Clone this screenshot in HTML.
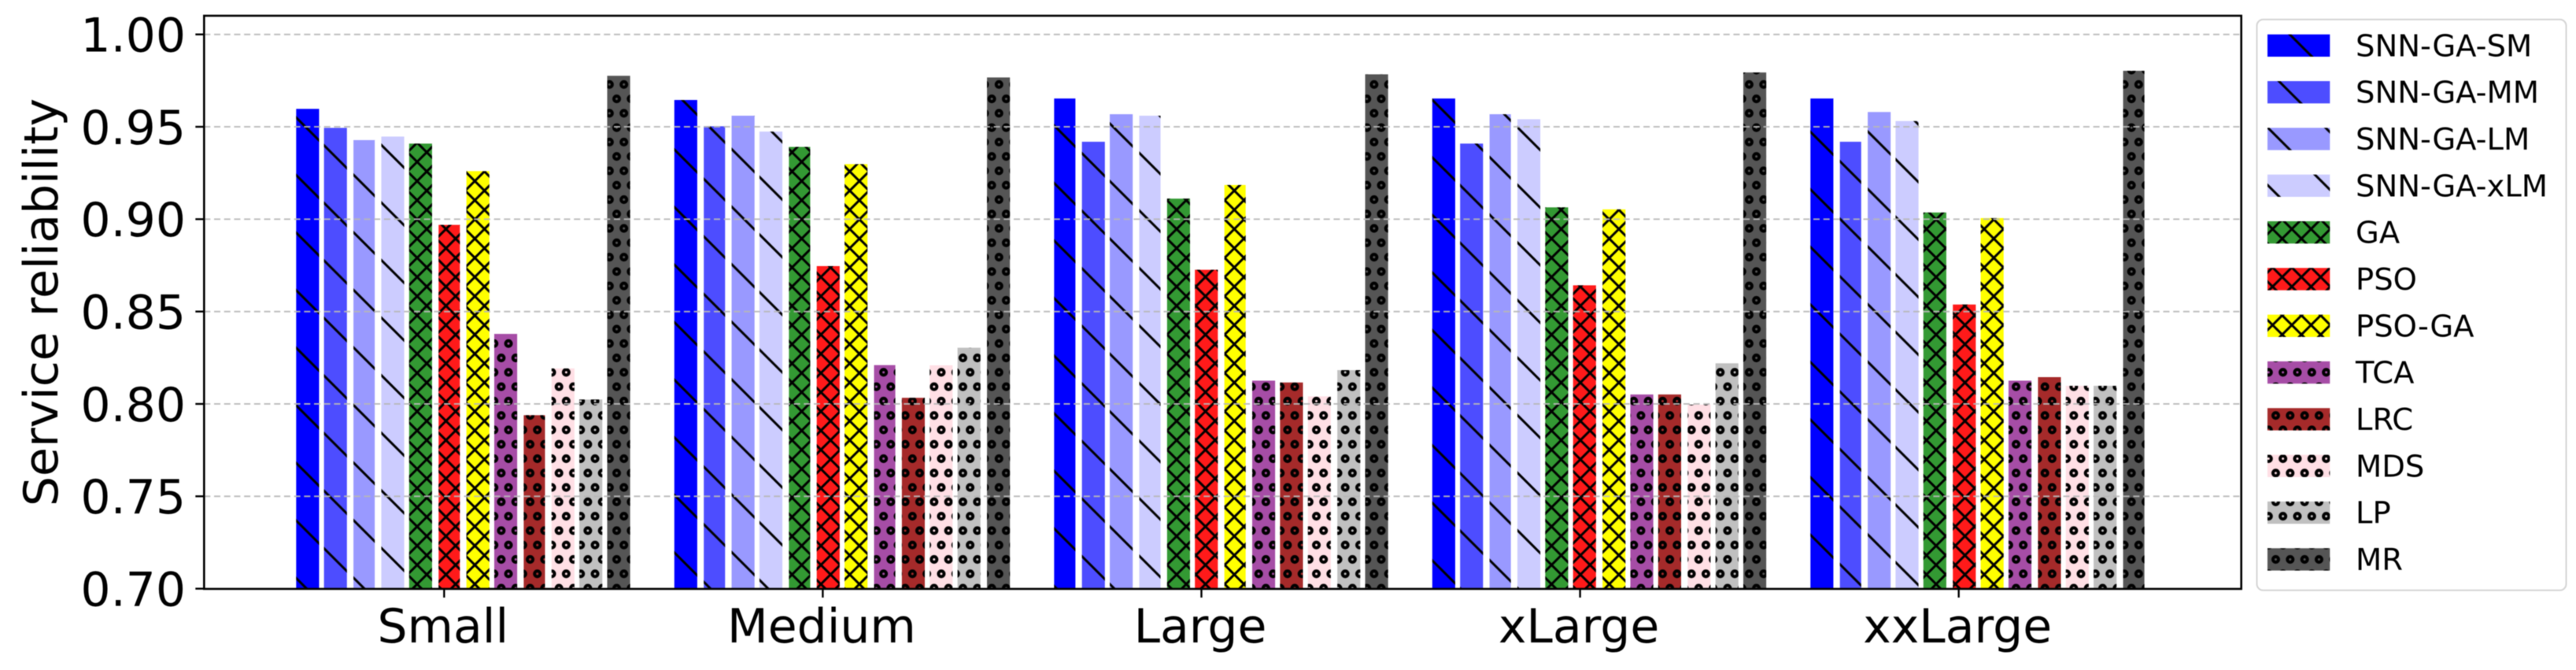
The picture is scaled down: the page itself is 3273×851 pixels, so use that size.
<!DOCTYPE html>
<html>
<head>
<meta charset="utf-8">
<title>Service reliability chart</title>
<style>
html,body{margin:0;padding:0;background:#fff;width:3273px;height:851px;overflow:hidden}
svg{display:block;filter:blur(0.6px)}
text{font-family:"DejaVu Sans",sans-serif;fill:#000}
</style>
</head>
<body>
<svg id="chart" xmlns="http://www.w3.org/2000/svg" width="3273" height="851" viewBox="0 0 3273 851">
  <defs>
    <pattern id="hatch-back" patternUnits="userSpaceOnUse" width="73.3" height="73.13" patternTransform="translate(376.3 149.3)">
      <path d="M-7.33 -7.313L80.63 80.443M-7.33 65.817L7.33 80.443M65.97 -7.313L80.63 7.313" stroke="#000" stroke-width="3" fill="none"/>
    </pattern>
    <pattern id="hatch-cross" patternUnits="userSpaceOnUse" width="24.43" height="24.38" patternTransform="translate(530 425)">
      <path d="M-2.443 -2.438L26.873 26.818M-2.443 26.818L26.873 -2.438" stroke="#000" stroke-width="3" fill="none"/>
    </pattern>
    <pattern id="hatch-circle" patternUnits="userSpaceOnUse" width="18.33" height="36.56" patternTransform="translate(792.7 107.3)">
      <g fill="none" stroke="#000" stroke-width="4">
        <circle cx="0" cy="0" r="3.5"/><circle cx="18.33" cy="0" r="3.5"/>
        <circle cx="0" cy="36.56" r="3.5"/><circle cx="18.33" cy="36.56" r="3.5"/>
        <circle cx="9.165" cy="18.28" r="3.5"/>
      </g>
    </pattern>
  </defs>
  <g id="bars"></g>
  <g id="grid"></g>
  <g id="axes"></g>
  <text transform="translate(73 384) rotate(-90)" text-anchor="middle" font-size="60">Service reliability</text>
  <g id="legend"></g>
</svg>
<script>
// ---- chart data ----
const categories = ["Small", "Medium", "Large", "xLarge", "xxLarge"];
const seriesNames = ["SNN-GA-SM", "SNN-GA-MM", "SNN-GA-LM", "SNN-GA-xLM", "GA", "PSO", "PSO-GA", "TCA", "LRC", "MDS", "LP", "MR"];
const yTicks = ["0.70", "0.75", "0.80", "0.85", "0.90", "0.95", "1.00"];

const snnGaSm  = [0.9597, 0.9645, 0.9653, 0.9653, 0.9653];
const snnGaMm  = [0.9494, 0.9503, 0.9419, 0.9409, 0.9419];
const snnGaLm  = [0.9428, 0.9560, 0.9568, 0.9568, 0.9580];
const snnGaXlm = [0.9447, 0.9474, 0.9560, 0.9541, 0.9531];
const ga       = [0.9409, 0.9391, 0.9111, 0.9064, 0.9036];
const pso      = [0.8969, 0.8746, 0.8726, 0.8642, 0.8538];
const psoGa    = [0.9260, 0.9298, 0.9185, 0.9053, 0.9006];
const tca      = [0.8379, 0.8210, 0.8126, 0.8051, 0.8126];
const lrc      = [0.7939, 0.8033, 0.8116, 0.8051, 0.8145];
const mds      = [0.8192, 0.8209, 0.8041, 0.7996, 0.8098];
const lp       = [0.8024, 0.8304, 0.8183, 0.8220, 0.8098];
const mr       = [0.9776, 0.9767, 0.9784, 0.9794, 0.9803];
const seriesValues = [snnGaSm, snnGaMm, snnGaLm, snnGaXlm, ga, pso, psoGa, tca, lrc, mds, lp, mr];

// ---- styling ----
const seriesFills = ["#0000ff", "#4d4dff", "#9999ff", "#ccccff", "#339933", "#ff1a1a", "#ffff00", "#a64da6", "#a52a2a", "#ffdfe5", "#c0c0c0", "#555555"];
const seriesHatches = ["hatch-back", "hatch-back", "hatch-back", "hatch-back", "hatch-cross", "hatch-cross", "hatch-cross", "hatch-circle", "hatch-circle", "hatch-circle", "hatch-circle", "hatch-circle"];

// ---- geometry and axis functions ----
const plotLeft = 259.3, plotRight = 2847.7, plotTop = 20, plotBottom = 748;
const SVGNS = "http://www.w3.org/2000/svg";

function yScale(v) { return 747.7 - (v - 0.7) / 0.3 * 704; }
function groupX(g) { return 564.3 + 481.1 * g; }
function snap(px) { return Math.round((px + 0.18) / 2.08) * 2.08 - 0.18; }
function barLeft(g, i) { return snap(groupX(g) + (i - 4.82) * 36 - 14.35); }
function barRight(g, i) { return snap(groupX(g) + (i - 4.82) * 36 + 14.35); }

function make(tag, attrs, parent) {
  const node = document.createElementNS(SVGNS, tag);
  for (const k in attrs) node.setAttribute(k, attrs[k]);
  parent.appendChild(node);
  return node;
}

// ---- bars ----
const barsLayer = document.getElementById("bars");
seriesValues.forEach(function (values, i) {
  values.forEach(function (v, g) {
    const x0 = barLeft(g, i), x1 = barRight(g, i), top = yScale(v);
    const box = { x: x0, y: top, width: x1 - x0, height: plotBottom - top };
    const bar = make("g", {}, barsLayer);
    
    
    make("rect", Object.assign({ fill: seriesFills[i] }, box), bar);
    make("rect", Object.assign({ fill: "url(#" + seriesHatches[i] + ")" }, box), bar);
  });
});

// ---- gridlines ----
const gridLayer = document.getElementById("grid");
yTicks.forEach(function (t) {
  if (t === "0.70") return;
  const yy = yScale(parseFloat(t));
  const line = make("line", { x1: plotLeft, x2: plotRight, y1: yy, y2: yy, stroke: "#b8b8b8", "stroke-width": 2, "stroke-dasharray": "8 4.7", opacity: 0.9 }, gridLayer);
  
  
});

// ---- axes ----
const axesLayer = document.getElementById("axes");
const frame = make("rect", { x: plotLeft, y: plotTop, width: plotRight - plotLeft, height: plotBottom - plotTop, fill: "none", stroke: "#000", "stroke-width": 2.6 }, axesLayer);



yTicks.forEach(function (t) {
  const yy = yScale(parseFloat(t));
  const tick = make("line", { x1: 248.3, x2: plotLeft, y1: yy, y2: yy, stroke: "#000", "stroke-width": 2.4 }, axesLayer);
  
  
  const label = make("text", { x: 236, y: yy + 21.8, "text-anchor": "end", "font-size": 60 }, axesLayer);
  label.textContent = t;
  
  
});

categories.forEach(function (c, g) {
  const xx = groupX(g);
  const tick = make("line", { x1: xx, x2: xx, y1: plotBottom, y2: 759, stroke: "#000", "stroke-width": 2.4 }, axesLayer);
  
  
  const label = make("text", { x: xx - 1.5, y: 816, "text-anchor": "middle", "font-size": 60 }, axesLayer);
  label.textContent = c;
  
  
});

// ---- legend ----
const legendLayer = document.getElementById("legend");
const legendBox = make("rect", { x: 2867.5, y: 24.8, width: 393, height: 725, rx: 8, ry: 8, fill: "#fff", stroke: "#d4d4d4", "stroke-width": 2 }, legendLayer);



seriesNames.forEach(function (name, i) {
  const rowTop = 43.7 + i * 59.33;
  const entry = make("g", {}, legendLayer);
  
  
  const swatch = { x: 2881, y: rowTop, width: 79.3, height: 28.3 };
  make("rect", Object.assign({ fill: seriesFills[i] }, swatch), entry);
  make("rect", Object.assign({ fill: "url(#" + seriesHatches[i] + ")" }, swatch), entry);
  const label = make("text", { x: 2993, y: rowTop + 27.6, "font-size": 38.5 }, entry);
  label.textContent = name;
  
  
});
</script>
</body>
</html>
